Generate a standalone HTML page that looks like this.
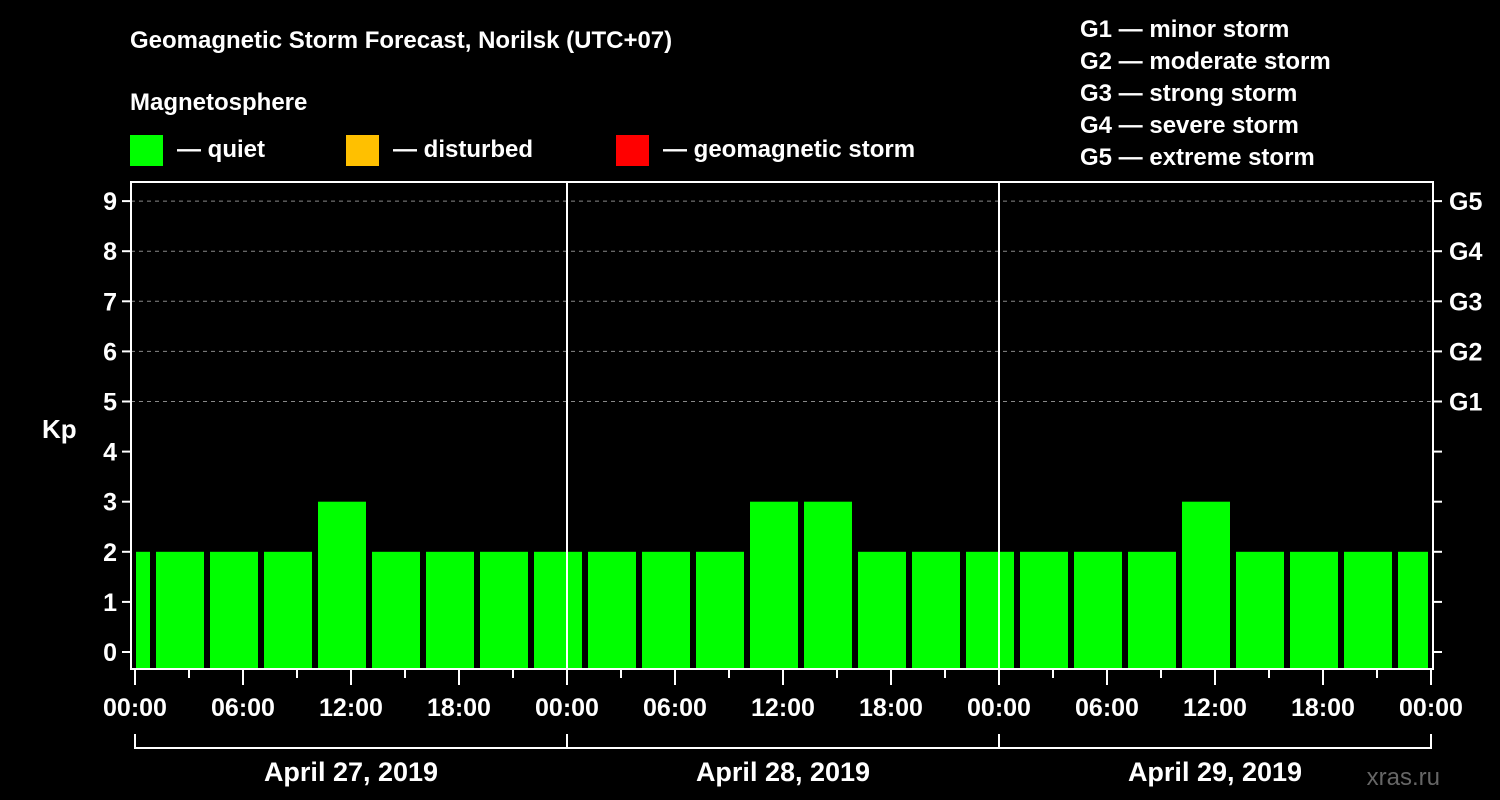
<!DOCTYPE html>
<html><head><meta charset="utf-8"><style>
html,body{margin:0;padding:0;background:#000;}
svg{display:block;font-family:"Liberation Sans",Arial,sans-serif;font-weight:bold;}
</style></head><body>
<svg id="c" width="1500" height="800" viewBox="0 0 1500 800">
<rect width="1500" height="800" fill="#000"/>
<text x="130" y="48" font-size="24" fill="#fff">Geomagnetic Storm Forecast, Norilsk (UTC+07)</text>
<text x="130" y="110" font-size="24" fill="#fff">Magnetosphere</text>
<g><rect x="130" y="135" width="33" height="31" fill="#00ff00"/><text x="177" y="157" font-size="24" fill="#fff">— quiet</text></g>
<g><rect x="346" y="135" width="33" height="31" fill="#ffc000"/><text x="393" y="157" font-size="24" fill="#fff">— disturbed</text></g>
<g><rect x="616" y="135" width="33" height="31" fill="#ff0000"/><text x="663" y="157" font-size="24" fill="#fff">— geomagnetic storm</text></g>
<g font-size="24" fill="#fff">
<text x="1080" y="37">G1 — minor storm</text>
<text x="1080" y="69">G2 — moderate storm</text>
<text x="1080" y="101">G3 — strong storm</text>
<text x="1080" y="133">G4 — severe storm</text>
<text x="1080" y="165">G5 — extreme storm</text>
</g>
<text x="42" y="438" font-size="26" fill="#fff">Kp</text>
<text x="1440" y="785" font-size="24" fill="#666" font-weight="normal" text-anchor="end">xras.ru</text>
<g id="plot"></g>
</svg>
<script>
const kpValues=[2,2,2,2,3,2,2,2,2,2,2,2,3,3,2,2,2,2,2,2,3,2,2,2,2];
const barStartHours=[0,1,4,7,10,13,16,19,22,25,28,31,34,37,40,43,46,49,52,55,58,61,64,67,70];
const dayLabels=["April 27, 2019","April 28, 2019","April 29, 2019"];
const hourTickLabels=["00:00","06:00","12:00","18:00","00:00","06:00","12:00","18:00","00:00","06:00","12:00","18:00","00:00"];
const gLabels=["G1","G2","G3","G4","G5"];
const NS="http://www.w3.org/2000/svg";
const g=document.getElementById('plot');
const L=131,R=1433,T=182,B=669;
const X=h=>135+h*18;
const Y=v=>652-v*50.1;
function mk(t,a,parent){const e=document.createElementNS(NS,t);for(const k in a)e.setAttribute(k,a[k]);(parent||g).appendChild(e);return e;}
// grid
for(let v=5;v<=9;v++){const e=mk('line',{x1:L,x2:R,y1:Y(v),y2:Y(v),stroke:'#888','stroke-width':1,'stroke-dasharray':'4,4'});

}
// bars
kpValues.forEach((v,i)=>{const s=barStartHours[i];const e=(i+1<barStartHours.length?barStartHours[i+1]:72);
const x0=X(s)+(i===0?1:3),x1=X(e)-(i===kpValues.length-1?3:3);
const c=v>=5?'#ff0000':(v>=4?'#ffc000':'#00ff00');
const r=mk('rect',{x:x0,y:Y(v),width:x1-x0,height:B-Y(v),fill:c});

});
// day separators
[1,2].forEach(d=>{const e=mk('line',{x1:X(d*24),x2:X(d*24),y1:T,y2:B,stroke:'#fff','stroke-width':2});

});
// frame
const f=mk('rect',{x:L,y:T,width:R-L,height:B-T,fill:'none',stroke:'#fff','stroke-width':2});


// y ticks
for(let v=0;v<=9;v++){mk('line',{x1:L-9,x2:L,y1:Y(v),y2:Y(v),stroke:'#fff','stroke-width':2});
mk('line',{x1:R,x2:R+9,y1:Y(v),y2:Y(v),stroke:'#fff','stroke-width':2});
const t=mk('text',{x:L-14,y:Y(v)+9,'font-size':25,fill:'#fff','text-anchor':'end'});t.textContent=v;

}
gLabels.forEach((s,i)=>{const t=mk('text',{x:1449,y:Y(5+i)+9,'font-size':25,fill:'#fff'});t.textContent=s;

});
// x ticks
for(let h=0;h<=72;h+=3){const maj=h%6===0;mk('line',{x1:X(h),x2:X(h),y1:B,y2:B+(maj?16:9),stroke:'#fff','stroke-width':2});}
hourTickLabels.forEach((s,i)=>{const t=mk('text',{x:X(i*6),y:716,'font-size':25,fill:'#fff','text-anchor':'middle'});t.textContent=s;

});
// day brackets
mk('line',{x1:X(0),x2:X(72),y1:748,y2:748,stroke:'#fff','stroke-width':2});
for(let d=0;d<=3;d++)mk('line',{x1:X(d*24),x2:X(d*24),y1:734,y2:749,stroke:'#fff','stroke-width':2});
dayLabels.forEach((s,i)=>{const t=mk('text',{x:X(i*24+12),y:781,'font-size':27,fill:'#fff','text-anchor':'middle'});t.textContent=s;

});
</script>
</body></html>
